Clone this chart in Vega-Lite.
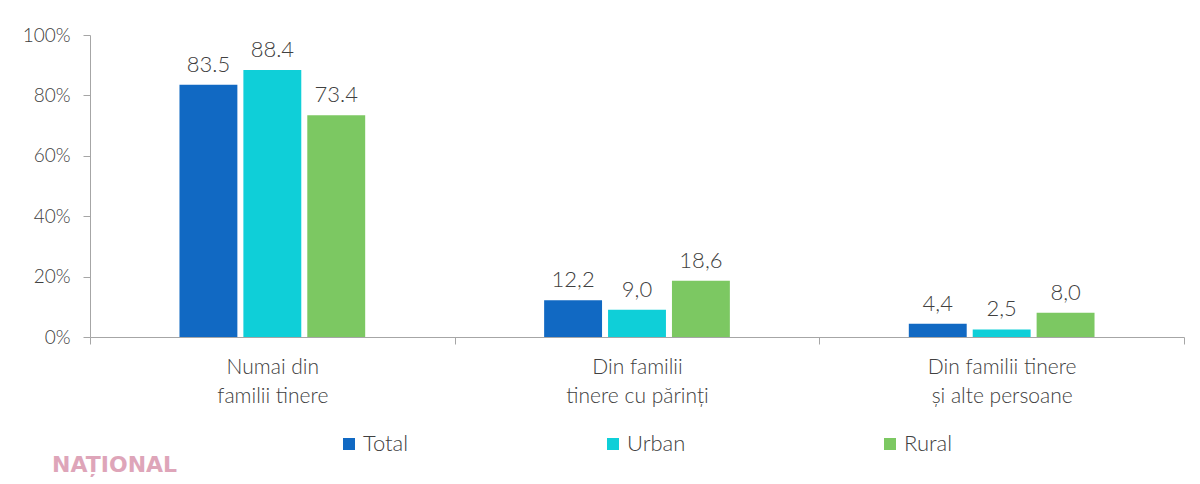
{
  "$schema": "https://vega.github.io/schema/vega-lite/v6.json",
  "width": 1094,
  "height": 302,
  "autosize": "none",
  "padding": {"left": 90, "top": 35, "right": 16, "bottom": 147},
  "background": "white",
  "title": {
    "text": "NAȚIONAL",
    "orient": "bottom",
    "anchor": "start",
    "frame": "group",
    "font": "DejaVu Sans",
    "fontSize": 22,
    "fontWeight": "bold",
    "color": "#dea5b9",
    "dx": -38,
    "offset": 0
  },
  "data": {
    "values": [
      {"categorie": "Numai din|familii tinere", "mediu": "Total", "valoare": 83.5, "eticheta": "83.5"},
      {"categorie": "Numai din|familii tinere", "mediu": "Urban", "valoare": 88.4, "eticheta": "88.4"},
      {"categorie": "Numai din|familii tinere", "mediu": "Rural", "valoare": 73.4, "eticheta": "73.4"},
      {"categorie": "Din familii|tinere cu părinți", "mediu": "Total", "valoare": 12.2, "eticheta": "12,2"},
      {"categorie": "Din familii|tinere cu părinți", "mediu": "Urban", "valoare": 9.0, "eticheta": "9,0"},
      {"categorie": "Din familii|tinere cu părinți", "mediu": "Rural", "valoare": 18.6, "eticheta": "18,6"},
      {"categorie": "Din familii tinere|și alte persoane", "mediu": "Total", "valoare": 4.4, "eticheta": "4,4"},
      {"categorie": "Din familii tinere|și alte persoane", "mediu": "Urban", "valoare": 2.5, "eticheta": "2,5"},
      {"categorie": "Din familii tinere|și alte persoane", "mediu": "Rural", "valoare": 8.0, "eticheta": "8,0"}
    ]
  },
  "encoding": {
    "x": {
      "field": "categorie",
      "type": "nominal",
      "sort": null,
      "title": null,
      "scale": {"paddingInner": 0, "paddingOuter": 0},
      "axis": {
        "tickBand": "extent",
        "labelExpr": "split(datum.label, '|')",
        "labelAngle": 0,
        "labelFont": "Lato",
        "labelFontWeight": 300,
        "labelFontSize": 21,
        "labelColor": "#404040",
        "labelPadding": 12,
        "labelLineHeight": 29,
        "domainColor": "#a6a6a6",
        "tickColor": "#a6a6a6",
        "tickSize": 7
      }
    },
    "xOffset": {
      "field": "mediu",
      "type": "nominal",
      "scale": {"domain": ["stanga", "Total", "Urban", "Rural", "dreapta"], "paddingInner": 0.094, "paddingOuter": 0.4}
    },
    "y": {
      "field": "valoare",
      "type": "quantitative",
      "title": null,
      "scale": {"domain": [0, 100]},
      "axis": {
        "values": [0, 20, 40, 60, 80, 100],
        "labelExpr": "datum.value + '%'",
        "grid": false,
        "labelFont": "Lato",
        "labelFontWeight": 300,
        "labelFontSize": 19,
        "labelColor": "#404040",
        "labelPadding": 13,
        "domainColor": "#a6a6a6",
        "tickColor": "#a6a6a6",
        "tickSize": 7
      }
    }
  },
  "layer": [
    {
      "mark": {"type": "bar"},
      "encoding": {
        "color": {
          "field": "mediu",
          "type": "nominal",
          "scale": {"domain": ["Total", "Urban", "Rural"], "range": ["#1169c3", "#0fcfd8", "#7cc862"]},
          "legend": {
            "title": null,
            "orient": "none",
            "direction": "horizontal",
            "legendX": 248,
            "legendY": 398,
            "symbolType": "square",
            "symbolSize": 144,
            "symbolStrokeWidth": 0,
            "labelFont": "Lato",
            "labelFontWeight": 300,
            "labelFontSize": 22,
            "labelColor": "#404040",
            "labelOffset": 3,
            "columnPadding": 193
          }
        }
      }
    },
    {
      "mark": {"type": "text", "baseline": "alphabetic", "dy": -13, "font": "Lato", "fontWeight": 300, "fontSize": 22, "color": "#404040"},
      "encoding": {"text": {"field": "eticheta"}}
    }
  ],
  "config": {"view": {"stroke": null}}
}
